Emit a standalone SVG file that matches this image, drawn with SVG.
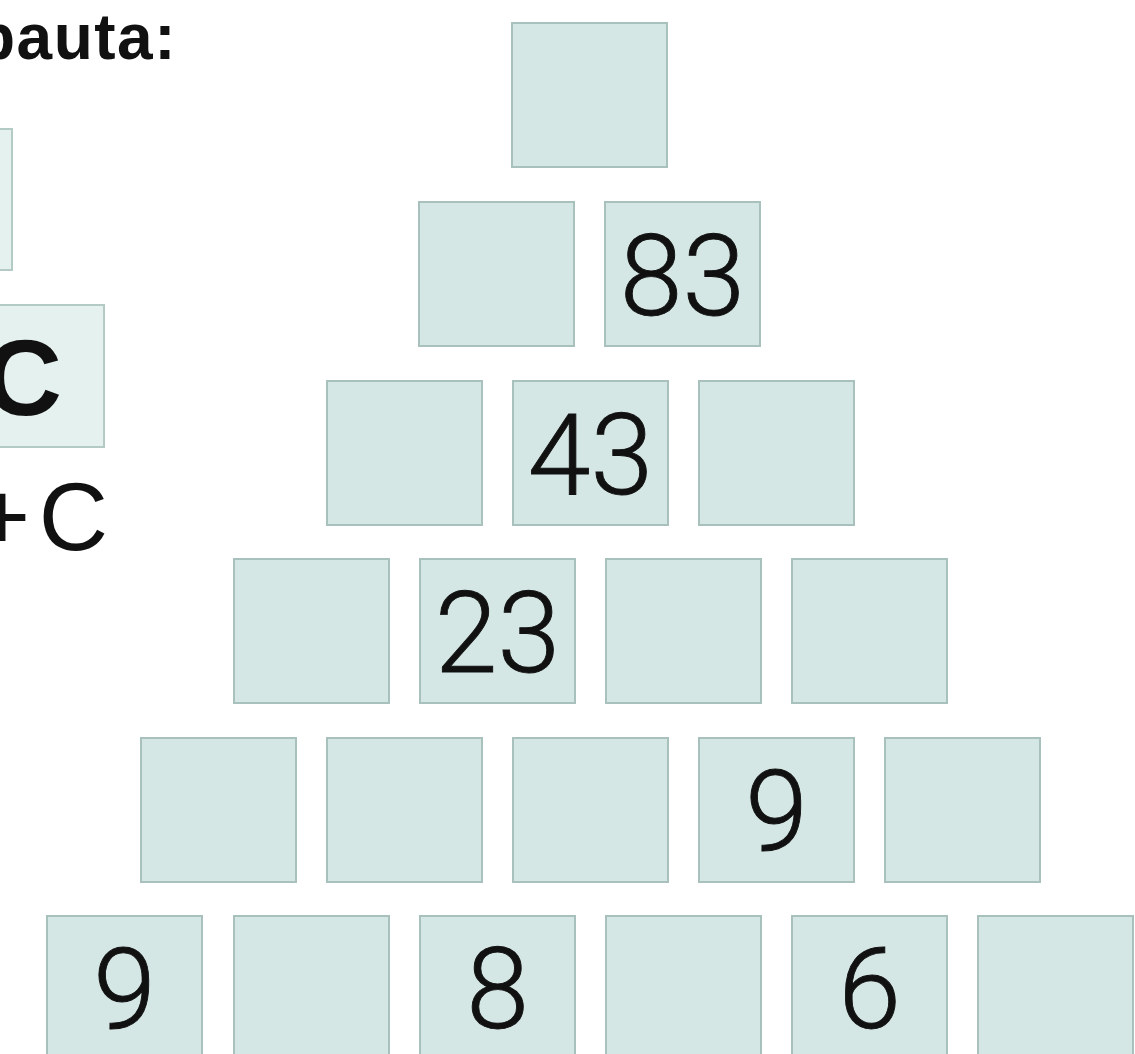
<svg xmlns="http://www.w3.org/2000/svg" width="1135" height="1054" viewBox="0 0 1135 1054">
<style>
.box{fill:#d5e7e4;stroke:#a9c1bc;stroke-width:2}
.lbox{fill:#e5f1ef;stroke:#b3cac5;stroke-width:2}
.num{font-family:Roboto,"DejaVu Sans",sans-serif;font-weight:300;font-size:113px;fill:#111;stroke:#111;stroke-width:0.9;text-anchor:middle}
.hd{font-family:"Liberation Sans",Arial,sans-serif;font-weight:bold;fill:#111}
.rg{font-family:"Liberation Sans",Arial,sans-serif;fill:#111}
</style>
<rect width="1135" height="1054" fill="#ffffff"/>
<g id="legend">
<text class="hd" x="-24" y="59" font-size="64" letter-spacing="1.5">pauta:</text>
<rect class="lbox" x="-150" y="129" width="162" height="141"/>
<rect class="lbox" x="-60" y="305" width="164" height="142"/>
<text class="hd" x="-16" y="415" font-size="108">C</text>
<text class="rg" x="108" y="550" font-size="96" text-anchor="end" word-spacing="-18">+ C</text>
</g>
<g id="row1">
<g id="n1_1"><rect class="box" x="512" y="23" width="155" height="144"/></g>
</g>
<g id="row2">
<g id="n2_1"><rect class="box" x="419" y="202" width="155" height="144"/></g>
<g id="n2_2"><rect class="box" x="605" y="202" width="155" height="144"/><text class="num" x="682.5" y="315">83</text></g>
</g>
<g id="row3">
<g id="n3_1"><rect class="box" x="327" y="381" width="155" height="144"/></g>
<g id="n3_2"><rect class="box" x="513" y="381" width="155" height="144"/><text class="num" x="590.5" y="494">43</text></g>
<g id="n3_3"><rect class="box" x="699" y="381" width="155" height="144"/></g>
</g>
<g id="row4">
<g id="n4_1"><rect class="box" x="234" y="559" width="155" height="144"/></g>
<g id="n4_2"><rect class="box" x="420" y="559" width="155" height="144"/><text class="num" x="497.5" y="672">23</text></g>
<g id="n4_3"><rect class="box" x="606" y="559" width="155" height="144"/></g>
<g id="n4_4"><rect class="box" x="792" y="559" width="155" height="144"/></g>
</g>
<g id="row5">
<g id="n5_1"><rect class="box" x="141" y="738" width="155" height="144"/></g>
<g id="n5_2"><rect class="box" x="327" y="738" width="155" height="144"/></g>
<g id="n5_3"><rect class="box" x="513" y="738" width="155" height="144"/></g>
<g id="n5_4"><rect class="box" x="699" y="738" width="155" height="144"/><text class="num" x="776.5" y="850">9</text></g>
<g id="n5_5"><rect class="box" x="885" y="738" width="155" height="144"/></g>
</g>
<g id="row6">
<g id="n6_1"><rect class="box" x="47" y="916" width="155" height="144"/><text class="num" x="124.5" y="1028">9</text></g>
<g id="n6_2"><rect class="box" x="234" y="916" width="155" height="144"/></g>
<g id="n6_3"><rect class="box" x="420" y="916" width="155" height="144"/><text class="num" x="497.5" y="1028">8</text></g>
<g id="n6_4"><rect class="box" x="606" y="916" width="155" height="144"/></g>
<g id="n6_5"><rect class="box" x="792" y="916" width="155" height="144"/><text class="num" x="869.5" y="1028">6</text></g>
<g id="n6_6"><rect class="box" x="978" y="916" width="155" height="144"/></g>
</g>
<g id="connectors"></g>
</svg>
